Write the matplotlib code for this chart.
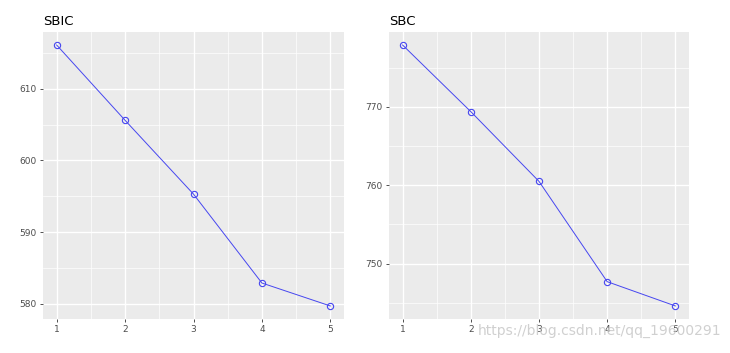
import matplotlib
matplotlib.use("Agg")
import matplotlib.pyplot as plt
from matplotlib.ticker import FixedLocator

steps = [1, 2, 3, 4, 5]
sbic = [616.1, 605.6, 595.3, 582.9, 579.7]
sbc = [777.9, 769.4, 760.5, 747.7, 744.6]

sbic_major = [580, 590, 600, 610]
sbic_minor = [575, 585, 595, 605, 615]
sbc_major = [750, 760, 770]
sbc_minor = [745, 755, 765, 775]
x_minor = [1.5, 2.5, 3.5, 4.5]

fig = plt.figure(figsize=(7.3, 3.53), dpi=100)
fig.patch.set_facecolor("white")

def panel(rect, y, title, ymaj, ymin):
    ax = fig.add_axes(rect)
    ax.set_facecolor("#EBEBEB")
    for s in ax.spines.values():
        s.set_visible(False)
    ax.plot(steps, y, color="#4646f0", lw=0.7, marker="o", ms=4.5,
            mfc="none", mec="#4646f0", mew=0.8, zorder=3)
    rng = max(y) - min(y)
    ax.set_ylim(min(y) - 0.05 * rng, max(y) + 0.05 * rng)
    ax.set_xlim(1 - 0.2, 5 + 0.2)
    ax.xaxis.set_major_locator(FixedLocator(steps))
    ax.xaxis.set_minor_locator(FixedLocator(x_minor))
    ax.yaxis.set_major_locator(FixedLocator(ymaj))
    ax.yaxis.set_minor_locator(FixedLocator(ymin))
    ax.grid(which="major", color="white", lw=1.0)
    ax.grid(which="minor", color="white", lw=0.5)
    ax.set_axisbelow(True)
    ax.tick_params(which="major", length=2.5, width=0.6, color="#333333",
                   labelsize=6.5, labelcolor="#4D4D4D", pad=2)
    ax.tick_params(which="minor", length=0)
    ax.set_title(title, loc="left", fontsize=9.5, color="black", pad=5)
    return ax

panel([43/730, 34/353, 301/730, 287/353], sbic, "SBIC", sbic_major, sbic_minor)
panel([389/730, 34/353, 300/730, 287/353], sbc, "SBC", sbc_major, sbc_minor)

fig.text(478/730, 1 - 331/353, "https://blog.csdn.net/qq_19600291",
         fontsize=10, color="#c8c8c8", alpha=0.85, va="center", ha="left")

fig.savefig("out.png", dpi=100)
